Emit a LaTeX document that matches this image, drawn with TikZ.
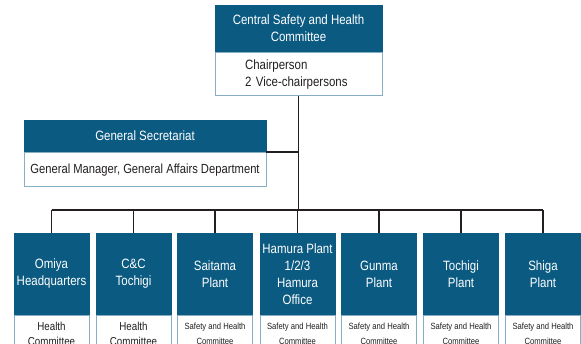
\documentclass[tikz,border=0pt]{standalone}
\usepackage{fontspec}
\setmainfont{Liberation Sans}[FakeStretch=0.85]
\definecolor{hdr}{HTML}{0B5A82}
\definecolor{edge}{HTML}{86AFC6}
\definecolor{ln}{HTML}{231F20}
\definecolor{txt}{HTML}{231F20}
\begin{document}
\begin{tikzpicture}[x=1pt,y=-1pt,
  head/.style={rectangle, fill=hdr, draw=hdr, text=white, inner sep=0pt, align=center, font=\fontsize{13.5}{17}\selectfont},
  body/.style={rectangle, fill=white, draw=edge, line width=1pt, text=txt, inner sep=0pt, font=\fontsize{13.5}{17}\selectfont},
  conn/.style={draw=ln, line width=1.6pt},
  bhead/.style={head, minimum width=75pt, minimum height=82pt},
  bbody/.style={body, minimum width=75pt, minimum height=36pt, anchor=north, align=center}]
\useasboundingbox (0,0) rectangle (581,344);
\fill[white] (0,0) rectangle (581,344);
% top
\node[head, minimum width=167pt, minimum height=47pt] (top) at (298.5,28.5) {Central Safety and Health\\Committee};
\node[body, minimum width=167pt, minimum height=43pt, anchor=north, align=left, text width=107pt] (topb) at (top.south) {Chairperson\\2 Vice-chairpersons};
% general secretariat
\node[head, minimum width=242pt, minimum height=32pt] (gs) at (145,136) {General Secretariat};
\node[body, minimum width=242pt, minimum height=34pt, anchor=north, align=center, font=\fontsize{13.2}{17}\selectfont] (gsb) at (gs.south) {General Manager, General Affairs Department};
% bottom
\foreach \n/\x/\t/\b/\f in {
  om/51.5/{Omiya\\Headquarters}/{Health\\Committee}/{\fontsize{11.5}{14.5}\selectfont},
  cc/133.5/{C\&C\\Tochigi}/{Health\\Committee}/{\fontsize{11.5}{14.5}\selectfont},
  sa/215/{Saitama\\Plant}/{Safety and Health\\Committee}/{\fontsize{9}{14.5}\selectfont},
  ha/297.5/{Hamura Plant\\1/2/3\\Hamura\\Office}/{Safety and Health\\Committee}/{\fontsize{9}{14.5}\selectfont},
  gu/379/{Gunma\\Plant}/{Safety and Health\\Committee}/{\fontsize{9}{14.5}\selectfont},
  to/461/{Tochigi\\Plant}/{Safety and Health\\Committee}/{\fontsize{9}{14.5}\selectfont},
  sh/543/{Shiga\\Plant}/{Safety and Health\\Committee}/{\fontsize{9}{14.5}\selectfont}} {
  \node[bhead] (\n) at (\x,274) {\t};
  \node[bbody, font=\f] (\n b) at (\n.south) {\b};
}
% connectors
\coordinate (bus) at (297.5,210);
\draw[conn] (topb.south) -- (top.south |- bus);
\draw[conn] (gs.south east) -- (gs.south east -| topb.south);
\draw[conn] (om.north |- bus) -- (sh.north |- bus);
\foreach \n in {om,cc,sa,ha,gu,to,sh} {
  \draw[conn] (\n.north |- bus) -- (\n.north);
}
\end{tikzpicture}
\end{document}
